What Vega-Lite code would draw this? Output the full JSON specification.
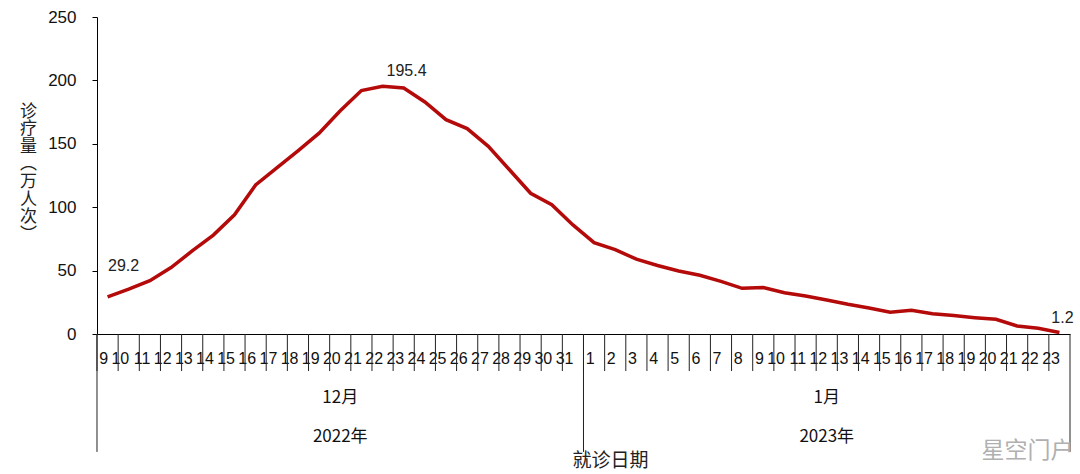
{
  "$schema": "https://vega.github.io/schema/vega-lite/v6.json",
  "autosize": "none",
  "width": 973,
  "height": 317,
  "padding": {"left": 97, "top": 17, "right": 10, "bottom": 140},
  "config": {"view": {"stroke": null}, "font": "Noto Sans CJK SC"},
  "title": {"text": "星空门户", "orient": "bottom", "anchor": "end", "color": "#b0b0b0", "fontSize": 23, "fontWeight": "normal", "font": "Noto Sans CJK SC", "offset": -30},
  "datasets": {
    "daily": [
      {"date": "2022-12-09", "value": 29.2},
      {"date": "2022-12-10", "value": 35.3},
      {"date": "2022-12-11", "value": 42.0},
      {"date": "2022-12-12", "value": 52.4},
      {"date": "2022-12-13", "value": 65.5},
      {"date": "2022-12-14", "value": 78.0},
      {"date": "2022-12-15", "value": 94.0},
      {"date": "2022-12-16", "value": 117.6},
      {"date": "2022-12-17", "value": 131.0},
      {"date": "2022-12-18", "value": 144.5},
      {"date": "2022-12-19", "value": 158.4},
      {"date": "2022-12-20", "value": 176.0},
      {"date": "2022-12-21", "value": 192.0},
      {"date": "2022-12-22", "value": 195.4},
      {"date": "2022-12-23", "value": 194.0},
      {"date": "2022-12-24", "value": 183.0},
      {"date": "2022-12-25", "value": 169.0},
      {"date": "2022-12-26", "value": 162.0},
      {"date": "2022-12-27", "value": 148.0},
      {"date": "2022-12-28", "value": 129.5},
      {"date": "2022-12-29", "value": 111.0},
      {"date": "2022-12-30", "value": 102.0},
      {"date": "2022-12-31", "value": 86.0},
      {"date": "2023-01-01", "value": 72.0},
      {"date": "2023-01-02", "value": 66.5},
      {"date": "2023-01-03", "value": 59.0},
      {"date": "2023-01-04", "value": 54.0},
      {"date": "2023-01-05", "value": 49.7},
      {"date": "2023-01-06", "value": 46.3},
      {"date": "2023-01-07", "value": 41.5},
      {"date": "2023-01-08", "value": 36.0},
      {"date": "2023-01-09", "value": 36.6},
      {"date": "2023-01-10", "value": 32.6},
      {"date": "2023-01-11", "value": 30.0},
      {"date": "2023-01-12", "value": 26.8},
      {"date": "2023-01-13", "value": 23.4},
      {"date": "2023-01-14", "value": 20.5},
      {"date": "2023-01-15", "value": 17.1},
      {"date": "2023-01-16", "value": 18.7},
      {"date": "2023-01-17", "value": 16.0},
      {"date": "2023-01-18", "value": 14.5},
      {"date": "2023-01-19", "value": 12.9},
      {"date": "2023-01-20", "value": 11.6},
      {"date": "2023-01-21", "value": 6.3},
      {"date": "2023-01-22", "value": 4.5},
      {"date": "2023-01-23", "value": 1.2}
    ],
    "periods": [
      {"date": "2022-12-20", "month": "12月", "year": "2022年"},
      {"date": "2023-01-12", "month": "1月", "year": "2023年"}
    ]
  },
  "layer": [
    {
      "data": {"name": "daily"},
      "mark": {"type": "rule", "xOffset": -10.58, "color": "#222222", "strokeWidth": 1},
      "encoding": {
        "x": {"field": "date", "type": "ordinal"},
        "y": {"datum": 0, "type": "quantitative"},
        "y2": {"datum": -29.2}
      }
    },
    {
      "data": {"name": "daily"},
      "transform": [{"filter": "datum.date == '2022-12-09' || datum.date == '2023-01-01'"}],
      "mark": {"type": "rule", "xOffset": -10.58, "color": "#222222", "strokeWidth": 1},
      "encoding": {
        "x": {"field": "date", "type": "ordinal"},
        "y": {"datum": 0, "type": "quantitative"},
        "y2": {"datum": -93}
      }
    },
    {
      "data": {"name": "daily"},
      "transform": [{"filter": "datum.date == '2023-01-23'"}],
      "mark": {"type": "rule", "xOffset": 10.58, "color": "#222222", "strokeWidth": 1},
      "encoding": {
        "x": {"field": "date", "type": "ordinal"},
        "y": {"datum": 0, "type": "quantitative"},
        "y2": {"datum": -93}
      }
    },
    {
      "data": {"name": "periods"},
      "mark": {"type": "text", "fontSize": 17, "color": "#111111", "baseline": "middle"},
      "encoding": {
        "x": {"field": "date", "type": "ordinal"},
        "y": {"datum": -50.5, "type": "quantitative"},
        "text": {"field": "month", "type": "nominal"}
      }
    },
    {
      "data": {"name": "periods"},
      "mark": {"type": "text", "fontSize": 17, "color": "#111111", "baseline": "middle"},
      "encoding": {
        "x": {"field": "date", "type": "ordinal"},
        "y": {"datum": -81.5, "type": "quantitative"},
        "text": {"field": "year", "type": "nominal"}
      }
    },
    {
      "data": {"name": "daily"},
      "mark": {"type": "line", "color": "#B40A0A", "strokeWidth": 3.5},
      "encoding": {
        "x": {
          "field": "date",
          "type": "ordinal",
          "scale": {"type": "point", "padding": 0.5},
          "axis": {
            "title": "就诊日期",
            "titleX": 513,
            "titleY": 126,
            "titleBaseline": "middle",
            "titleAlign": "center",
            "titleAnchor": null,
            "titleFontSize": 19,
            "titleFontWeight": "normal",
            "titleColor": "#222222",
            "orient": "bottom",
            "domain": true,
            "domainColor": "#000000",
            "ticks": false,
            "labelExpr": "'' + toNumber(slice(datum.value, 8))",
            "labelFont": "Liberation Sans",
            "labelFontSize": 16,
            "labelColor": "#111111",
            "labelPadding": 24,
            "labelBaseline": "middle",
            "labelAngle": 0,
            "labelOverlap": false,
            "grid": false
          }
        },
        "y": {
          "field": "value",
          "type": "quantitative",
          "scale": {"domain": [0, 250], "nice": false},
          "axis": {
            "title": ["诊", "疗", "量", "︵", "万", "人", "次", "︶"],
            "titleAngle": 0,
            "titleX": -69,
            "titleY": 86,
            "titleLineHeight": 17.6,
            "titleFontSize": 17,
            "titleFontWeight": "normal",
            "titleBaseline": "top",
            "titleAlign": "center",
            "titleColor": "#222222",
            "values": [0, 50, 100, 150, 200, 250],
            "grid": false,
            "domainColor": "#000000",
            "tickColor": "#000000",
            "tickSize": 5,
            "labelPadding": 16,
            "labelFont": "Liberation Sans",
            "labelFontSize": 17,
            "labelColor": "#111111"
          }
        }
      }
    },
    {
      "data": {"name": "daily"},
      "transform": [{"filter": "datum.date == '2022-12-09'"}],
      "mark": {"type": "text", "dx": 16, "dy": -31, "fontSize": 16, "font": "Liberation Sans", "color": "#222222"},
      "encoding": {
        "x": {"field": "date", "type": "ordinal"},
        "y": {"field": "value", "type": "quantitative"},
        "text": {"field": "value", "type": "quantitative", "format": ".1f"}
      }
    },
    {
      "data": {"name": "daily"},
      "transform": [{"filter": "datum.date == '2022-12-22'"}],
      "mark": {"type": "text", "dx": 24, "dy": -15, "fontSize": 16, "font": "Liberation Sans", "color": "#222222"},
      "encoding": {
        "x": {"field": "date", "type": "ordinal"},
        "y": {"field": "value", "type": "quantitative"},
        "text": {"field": "value", "type": "quantitative", "format": ".1f"}
      }
    },
    {
      "data": {"name": "daily"},
      "transform": [{"filter": "datum.date == '2023-01-23'"}],
      "mark": {"type": "text", "dx": 3, "dy": -14, "fontSize": 16, "font": "Liberation Sans", "color": "#222222"},
      "encoding": {
        "x": {"field": "date", "type": "ordinal"},
        "y": {"field": "value", "type": "quantitative"},
        "text": {"field": "value", "type": "quantitative", "format": ".1f"}
      }
    }
  ]
}
